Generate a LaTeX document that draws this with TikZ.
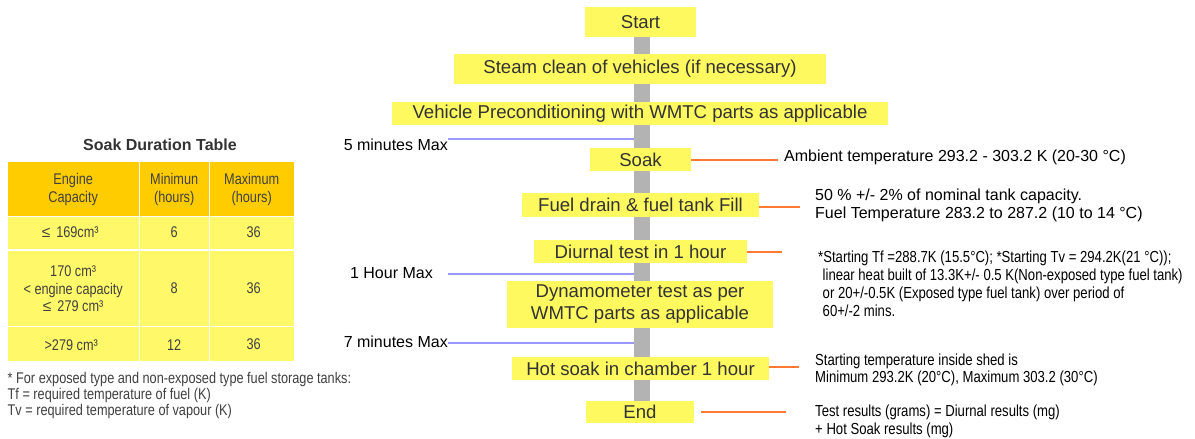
\documentclass[tikz,border=0pt]{standalone}
\usepackage{fontspec}
\setmainfont{Liberation Sans}
\newfontfamily\narrowfont[FakeStretch=0.82]{Liberation Sans}
\definecolor{boxyellow}{HTML}{FFF960}
\definecolor{bodyyellow}{HTML}{FFF96A}
\definecolor{headyellow}{HTML}{FFCC00}
\definecolor{bargray}{HTML}{B3B3B3}
\definecolor{bluelink}{HTML}{9999FF}
\definecolor{orangelink}{HTML}{FF7A33}
\definecolor{darktext}{HTML}{333333}
\definecolor{tabletext}{HTML}{404040}
\tikzset{
  stepbox/.style={fill=boxyellow, text=darktext, inner sep=0pt, align=center,
    font=\fontsize{18.6}{22}\selectfont},
  sidelabel/.style={inner sep=0pt, text=black, font=\fontsize{16}{18}\selectfont},
  notelabel/.style={inner sep=0pt, text=black, align=left, anchor=west,
    font=\narrowfont\fontsize{16}{18}\selectfont},
  infolabel/.style={inner sep=0pt, text=black, align=left, anchor=west,
    font=\fontsize{16}{18}\selectfont},
  bluelinkline/.style={draw=bluelink, line width=1.2pt},
  orangelinkline/.style={draw=orangelink, line width=1.2pt},
  headcell/.style={fill=headyellow, inner sep=0pt, anchor=north west},
  bodycell/.style={fill=bodyyellow, inner sep=0pt, anchor=north west},
  celltext/.style={inner sep=0pt, text=tabletext, align=center,
    font=\narrowfont\fontsize{15.5}{17.7}\selectfont},
}
\begin{document}
\begin{tikzpicture}[x=1pt,y=-1pt]
\useasboundingbox[fill=white] (0,0) rectangle (1195,439);

% ---- central bar
\node[fill=bargray, inner sep=0pt, minimum width=16pt, minimum height=364pt] (bar) at (642,219) {};

% ---- step boxes
\node[stepbox, minimum width=111pt, minimum height=30pt] (start) at (640.5,22) {Start};
\node[stepbox, minimum width=372pt, minimum height=30pt] (steam) at (640,69) {Steam clean of vehicles (if necessary)};
\node[stepbox, minimum width=496pt, minimum height=23pt] (precond) at (640,113.5) {Vehicle Preconditioning with WMTC parts as applicable};
\node[stepbox, minimum width=101pt, minimum height=23pt] (soak) at (640.5,159.5) {Soak};
\node[stepbox, minimum width=237pt, minimum height=24pt] (fuel) at (640.5,205) {Fuel drain \& fuel tank Fill};
\node[stepbox, minimum width=213pt, minimum height=23pt] (diurnal) at (640.5,251.5) {Diurnal test in 1 hour};
\node[stepbox, minimum width=266pt, minimum height=47pt] (dyn) at (640,304.5) {Dynamometer test as per\\WMTC parts as applicable};
\node[stepbox, minimum width=257pt, minimum height=23pt] (hot) at (640.5,368.5) {Hot soak in chamber 1 hour};
\node[stepbox, minimum width=108pt, minimum height=22pt] (end) at (640,412) {End};

% ---- left time labels
\node[sidelabel, anchor=east] (t5) at (448,145) {5 minutes Max};
\node[sidelabel, anchor=east] (t1) at (433,273) {1 Hour Max};
\node[sidelabel, anchor=east] (t7) at (448,342) {7 minutes Max};
\coordinate (c5) at (448,139);
\coordinate (c1) at (448,274);
\coordinate (c7) at (448,343);
\draw[bluelinkline] (c5) -- (c5 -| bar.west);
\draw[bluelinkline] (c1) -- (c1 -| bar.west);
\draw[bluelinkline] (c7) -- (c7 -| bar.west);

% ---- right information labels
\node[infolabel] (amb) at (784,157) {Ambient temperature 293.2 - 303.2 K (20-30 °C)};
\node[infolabel] (fuelinfo) at (815,205.5) {50 \% +/- 2\% of nominal tank capacity.\\Fuel Temperature 283.2 to 287.2 (10 to 14 °C)};
\node[notelabel] (diurinfo) at (818,284) {*Starting Tf =288.7K (15.5°C); *Starting Tv = 294.2K(21 °C));\\
\hspace{4.5pt}linear heat built of 13.3K+/- 0.5 K(Non-exposed type fuel tank)\\
\hspace{4.5pt}or 20+/-0.5K (Exposed type fuel tank) over period of\\
\hspace{4.5pt}60+/-2 mins.};
\node[notelabel, font=\narrowfont\fontsize{16}{17}\selectfont] (hotinfo) at (815,370) {Starting temperature inside shed is\\Minimum 293.2K (20°C), Maximum 303.2 (30°C)};
\node[notelabel] (endinfo) at (815,421.5) {Test results (grams) = Diurnal results (mg)\\+ Hot Soak results (mg)};

\coordinate (oa) at (778,0);
\coordinate (of) at (800,0);
\coordinate (od) at (782,0);
\coordinate (oh) at (799,0);
\coordinate (oe1) at (701,0);
\coordinate (oe2) at (786,0);
\draw[orangelinkline] ([yshift=-0.5pt]soak.east) -- ([yshift=-0.5pt]soak.east -| oa);
\draw[orangelinkline] ([yshift=-2pt]fuel.east) -- ([yshift=-2pt]fuel.east -| of);
\draw[orangelinkline] ([yshift=-0.5pt]diurnal.east) -- ([yshift=-0.5pt]diurnal.east -| od);
\draw[orangelinkline] ([yshift=1.5pt]hot.east) -- ([yshift=1.5pt]hot.east -| oh);
\draw[orangelinkline] (end.center -| oe1) -- (end.center -| oe2);

% ---- soak duration table
\node[inner sep=0pt, text=darktext, font=\bfseries\fontsize{16}{18}\selectfont] (ttitle) at (160,145) {Soak Duration Table};

\node[headcell, minimum width=131pt, minimum height=54pt] (h1) at (7.5,162) {};
\node[headcell, minimum width=69pt, minimum height=54pt] (h2) at (139.5,162) {};
\node[headcell, minimum width=84pt, minimum height=54pt] (h3) at (209.5,162) {};

\node[bodycell, minimum width=131pt, minimum height=32pt] (a1) at (7.5,217) {};
\node[bodycell, minimum width=69pt, minimum height=32pt] (a2) at (139.5,217) {};
\node[bodycell, minimum width=84pt, minimum height=32pt] (a3) at (209.5,217) {};

\node[bodycell, minimum width=131pt, minimum height=75.5pt] (b1) at (7.5,250.5) {};
\node[bodycell, minimum width=69pt, minimum height=75.5pt] (b2) at (139.5,250.5) {};
\node[bodycell, minimum width=84pt, minimum height=75.5pt] (b3) at (209.5,250.5) {};

\node[bodycell, minimum width=131pt, minimum height=34pt] (r1) at (7.5,327) {};
\node[bodycell, minimum width=69pt, minimum height=34pt] (r2) at (139.5,327) {};
\node[bodycell, minimum width=84pt, minimum height=34pt] (r3) at (209.5,327) {};

\node[celltext] at (h1.center) {Engine\\Capacity};
\node[celltext] at (h2.center) {Minimun\\(hours)};
\node[celltext] at (h3.center) {Maximum\\(hours)};

\node[celltext] at ([xshift=-3pt,yshift=1.5pt]a1.center) {{\normalfont\fontsize{15.5}{17}\selectfont ≤}\hspace{6pt}169cm³};
\node[celltext] at ([yshift=1.5pt]a2.center) {6};
\node[celltext] at ([xshift=2pt,yshift=1.5pt]a3.center) {36};

\node[celltext] at ([yshift=-0.5pt]b1.center) {170 cm³\\< engine capacity\\{\normalfont\fontsize{15.5}{17}\selectfont ≤}\hspace{6pt}279 cm³};
\node[celltext] at (b2.center) {8};
\node[celltext] at ([xshift=2pt]b3.center) {36};

\node[celltext] at ([xshift=-2pt,yshift=-1pt]r1.center) {>279 cm³};
\node[celltext] at ([yshift=-1pt]r2.center) {12};
\node[celltext] at ([xshift=2pt,yshift=0.5pt]r3.center) {36};

\node[inner sep=0pt, anchor=north west, align=left, text=tabletext,
  font=\narrowfont\fontsize{15.5}{16}\selectfont] (foot) at (7.5,372)
  {* For exposed type and non-exposed type fuel storage tanks:\\Tf = required temperature of fuel (K)\\Tv = required temperature of vapour (K)};
\end{tikzpicture}
\end{document}
